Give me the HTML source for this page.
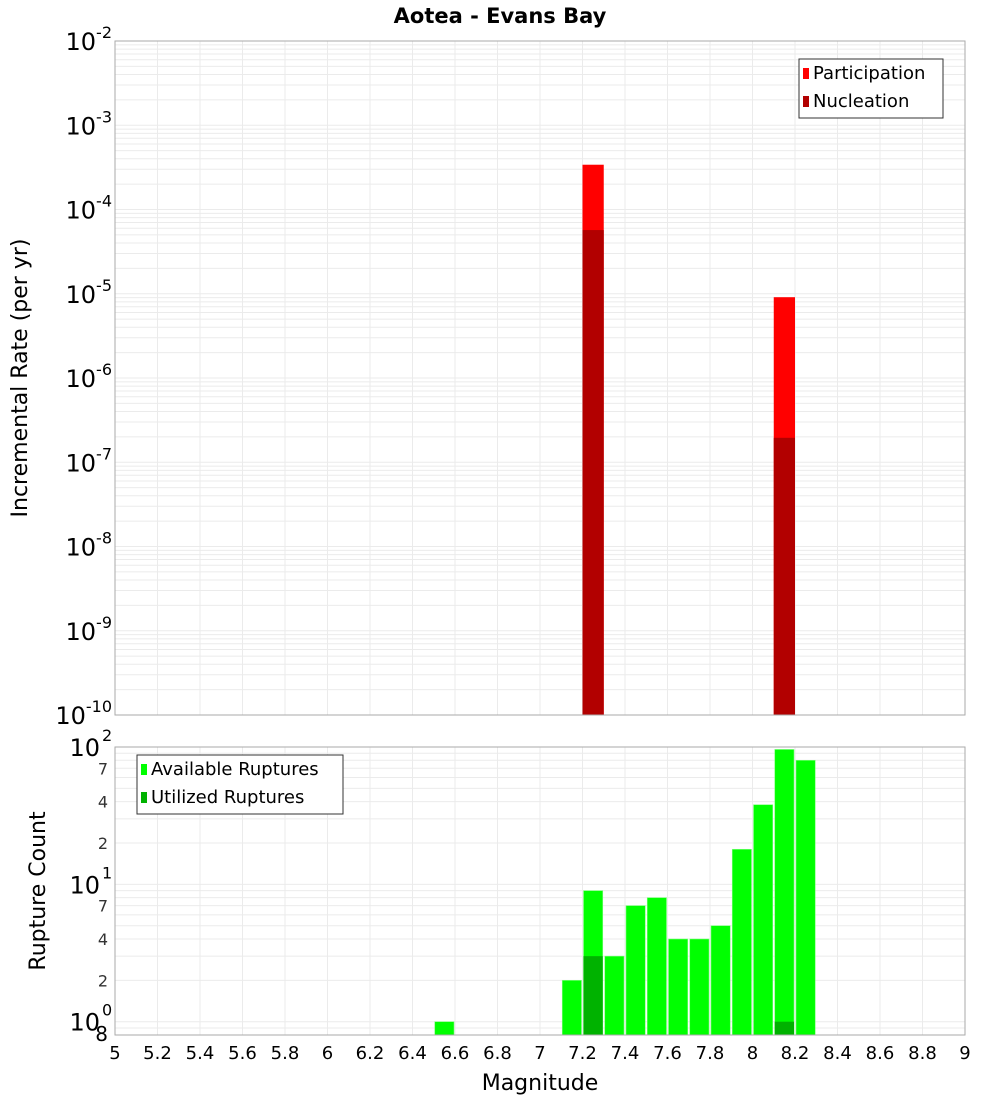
<!DOCTYPE html>
<html><head><meta charset="utf-8"><style>
body{margin:0;background:#fff;font-family:"Liberation Sans","DejaVu Sans",sans-serif}
svg text{font-family:"DejaVu Sans","Liberation Sans",sans-serif}
</style></head><body>
<svg id="c" width="1000" height="1100" xmlns="http://www.w3.org/2000/svg"></svg>
<script>
const binCenters=[7.25,8.15];
const participation=[3.4e-4,9.1e-6];
const nucleation=[5.7e-5,1.95e-7];
const ruptMags=[6.55,7.15,7.25,7.35,7.45,7.55,7.65,7.75,7.85,7.95,8.05,8.15,8.25];
const available=[1,2,9,3,7,8,4,4,5,18,38,96,80];
const utilMags=[7.25,8.15];
const utilized=[3,1];
const xTicks=[5,5.2,5.4,5.6,5.8,6,6.2,6.4,6.6,6.8,7,7.2,7.4,7.6,7.8,8,8.2,8.4,8.6,8.8,9];
const topExps=[-2,-3,-4,-5,-6,-7,-8,-9,-10];
const botMinor=[2,4,7,20,40,70];

const S=document.getElementById('c');const NS='http://www.w3.org/2000/svg';
function el(t,a,p){const e=document.createElementNS(NS,t);for(const k in a)e.setAttribute(k,a[k]);(p||S).appendChild(e);return e;}
const L=115,R=965;
const x=m=>L+(m-5)/4*(R-L);
const T1=41,B1=715;const y1=v=>T1+(-2-Math.log10(v))/8*(B1-T1);
const T2=747,B2=1035;const lo=Math.log10(0.8);const y2=v=>B2-(Math.log10(v)-lo)/(2-lo)*(B2-T2);
const bw=x(5.1)-x(5);

// title
let t=el('text',{x:500,y:23,'text-anchor':'middle','font-size':21,'font-weight':'bold'});t.textContent='Aotea - Evans Bay';


// top grid
let g=el('g',{});
for(let d=-10;d<-2;d++)for(let k=1;k<10;k++){const yy=y1(k*Math.pow(10,d));el('line',{x1:L,x2:R,y1:yy,y2:yy,stroke:'#ebebeb'},g);}
xTicks.forEach(m=>el('line',{x1:x(m),x2:x(m),y1:T1,y2:B1,stroke:'#ebebeb'},g));
// bottom grid
let g2=el('g',{});
[0.8,0.9,1,2,3,4,5,6,7,8,9,10,20,30,40,50,60,70,80,90].forEach(v=>{const yy=y2(v);el('line',{x1:L,x2:R,y1:yy,y2:yy,stroke:'#ebebeb'},g2);});
xTicks.forEach(m=>el('line',{x1:x(m),x2:x(m),y1:T2,y2:B2,stroke:'#ebebeb'},g2));

// top bars
binCenters.forEach((m,i)=>{
 let r=el('rect',{x:x(m)-bw/2,y:y1(participation[i]),width:bw,height:B1-y1(participation[i]),fill:'#ff0000'});
 
 let r2=el('rect',{x:x(m)-bw/2,y:y1(nucleation[i]),width:bw,height:B1-y1(nucleation[i]),fill:'#b20000'});
 
});
// bottom bars
ruptMags.forEach((m,i)=>{
 let r=el('rect',{x:x(m)-bw/2+1,y:y2(available[i]),width:bw-2,height:B2-y2(available[i]),fill:'#00ff00',stroke:'#80ff80','stroke-width':0.6});
 
});
utilMags.forEach((m,i)=>{
 let r=el('rect',{x:x(m)-bw/2+1,y:y2(utilized[i]),width:bw-2,height:B2-y2(utilized[i]),fill:'#00b200'});
 
});
// frames
let f1=el('rect',{x:L,y:T1,width:R-L,height:B1-T1,fill:'none',stroke:'#aaa'});
let f2=el('rect',{x:L,y:T2,width:R-L,height:B2-T2,fill:'none',stroke:'#aaa'});

// top y labels
topExps.forEach(e=>{const yy=y1(Math.pow(10,e));
 let tx=el('text',{x:112,y:yy+9,'text-anchor':'end','font-size':24});
 
 tx.innerHTML='10<tspan dy="-12" font-size="16">'+e+'</tspan>';
});
// bottom y labels
[0,1,2].forEach(e=>{const yy=y2(Math.pow(10,e));
 let tx=el('text',{x:100,y:yy+9,'text-anchor':'end','font-size':24});
 
 tx.textContent='10';
 let sp=el('text',{x:102,y:yy-6,'font-size':16});sp.textContent=e;
 
});
botMinor.concat([0.8]).forEach(v=>{const yy=y2(v);
 let tx=el('text',{x:108,y:yy+6,'text-anchor':'end','font-size':v==0.8?20:16,fill:v==0.8?'#000':'#333'});
 tx.textContent=v==0.8?'8':String(v).replace(/0$/,'');
 
});
// x labels
xTicks.forEach(m=>{let tx=el('text',{x:x(m),y:1059,'text-anchor':'middle','font-size':18});tx.textContent=String(m);
 });
let xt=el('text',{x:540,y:1090,'text-anchor':'middle','font-size':22});xt.textContent='Magnitude';

let yt=el('text',{x:0,y:0,'text-anchor':'middle','font-size':22,transform:'translate(27,378) rotate(-90)'});yt.textContent='Incremental Rate (per yr)';

let yt2=el('text',{x:0,y:0,'text-anchor':'middle','font-size':22,transform:'translate(45,891) rotate(-90)'});yt2.textContent='Rupture Count';


// legends
function legend(x0,y0,w,h,items,name){
 let lg=el('g',{});
 el('rect',{x:x0,y:y0,width:w,height:h,fill:'#fff',stroke:'#333'},lg);
 items.forEach((it,i)=>{const yy=y0+14+i*28;
  el('rect',{x:x0+4,y:yy-5,width:6,height:11,fill:it[1]},lg);
  let tx=el('text',{x:x0+14,y:yy+6,'font-size':18},lg);tx.textContent=it[0];
  
 });
}
legend(799,59,144,59,[['Participation','#ff0000'],['Nucleation','#b20000']],'top-legend');
legend(137,755,206,59,[['Available Ruptures','#00ff00'],['Utilized Ruptures','#00b200']],'bottom-legend');
</script>
</body></html>
